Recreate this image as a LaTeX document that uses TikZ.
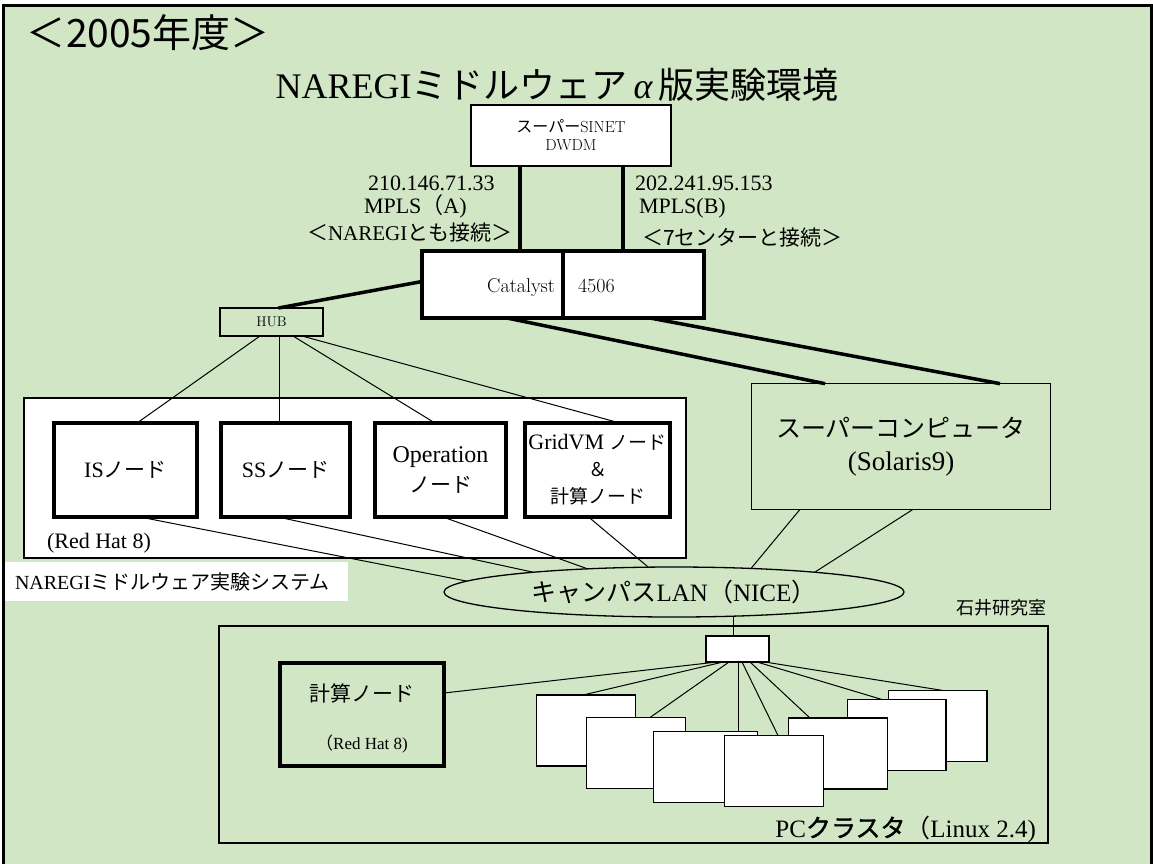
\documentclass[tikz,border=0pt]{standalone}
\usepackage{fontspec}
\setmainfont{Liberation Serif}
\newfontfamily\jp{Noto Sans CJK JP}
\newfontfamily\jpheavy[FakeBold=1.5]{Noto Sans CJK JP}
\usepackage{tikz}
\usetikzlibrary{positioning,shapes.geometric}
\newcommand\lmtext{\fontfamily{lmr}\selectfont}
\newcommand\fsz[2]{\fontsize{#1}{#2}\selectfont}

\begin{document}
\begin{tikzpicture}[x=1pt, y=-1pt,
  every node/.style={inner sep=0pt, outer sep=0pt},
  frame/.style={draw, line width=1.3pt},
  thinbox/.style={frame, fill=white},
  heavybox/.style={draw, line width=4pt, fill=white},
  pcbox/.style={thinbox, minimum width=98.7pt, minimum height=71pt},
  trunk/.style={line width=3.5pt},
  link/.style={line width=1pt},
  txt/.style={anchor=base west}]
  \definecolor{bggreen}{HTML}{D0E6C5}
  \useasboundingbox (0,0) rectangle (1153,863);
  \draw[line width=3pt, fill=bggreen] (3.5,5) rectangle (1151.5,870);

  % titles
  \node[txt, font=\fsz{39}{42}] (year) at (27,47) {\jp ＜2005年度＞};
  \node[anchor=base, font=\fsz{36}{40}] (title) at (557,98)
    {NAREGI{\jp ミドルウェア}\,{\itshape α}\,{\jp 版実験環境}};

  % SINET and Catalyst
  \node[thinbox, minimum width=200pt, minimum height=61pt, align=center,
    font=\fsz{16}{18}\lmtext] (sinet) at (571,135.5) {{\jp スーパー}SINET\\DWDM};
  \node[heavybox, minimum width=282pt, minimum height=67pt] (cat) at (563,284.5) {};
  \draw[trunk] (cat.north) -- (cat.south);
  \node[anchor=base east, font=\fsz{20}{24}\lmtext] (catname) at (555,292) {Catalyst};
  \node[txt, font=\fsz{20}{24}\lmtext] (catnum) at (578,292) {4506};
  \draw[trunk] ([xshift=-51pt]sinet.south) -- ([xshift=-51pt]sinet.south |- cat.north);
  \draw[trunk] ([xshift=52pt]sinet.south) -- ([xshift=52pt]sinet.south |- cat.north);

  \node[txt, font=\fsz{22}{26}] (ipa) at (368,190) {210.146.71.33};
  \node[txt, font=\fsz{22}{26}] (mplsa) at (364,213) {MPLS{\jp （}A)};
  \node[txt, font=\fsz{21}{26}] (conna) at (307,240) {{\jp ＜}NAREGI{\jp とも接続＞}};
  \node[txt, font=\fsz{22}{26}] (ipb) at (635,190) {202.241.95.153};
  \node[txt, font=\fsz{22}{26}] (mplsb) at (639,213) {MPLS(B)};
  \node[txt, font=\fsz{21}{26}] (connb) at (642,245) {\jp ＜7センターと接続＞};

  % experiment system
  \node[frame, minimum width=103pt, minimum height=28pt, font=\fsz{14}{16}\lmtext]
    (hub) at (271.5,322) {HUB};
  \draw[trunk] ([xshift=7pt]hub.north) -- ([yshift=3pt]cat.west);
  \node[thinbox, minimum width=662pt, minimum height=160pt] (sysbox) at (355,478) {};
  \node[heavybox, minimum width=143pt, minimum height=94pt, font=\fsz{22}{26}]
    (isnode) at (125.5,470) {IS{\jp\fsz{21}{26}ノード}};
  \node[heavybox, minimum width=129pt, minimum height=94pt, font=\fsz{22}{26}]
    (ssnode) at (285.5,470) {SS{\jp\fsz{21}{26}ノード}};
  \node[heavybox, minimum width=131pt, minimum height=94pt, align=center, font=\fsz{24}{30}]
    (opnode) at (440.5,470) {Operation\\{\jp\fsz{21}{30}ノード}};
  \node[heavybox, minimum width=145pt, minimum height=94pt, align=center, font=\fsz{22}{27}]
    (gridnode) at (597.5,469.5)
    {GridVM {\jp\fsz{19}{27}ノード}\\{\jp\fsz{19}{27}＆}\\{\jp\fsz{19}{27}計算ノード}};
  \draw[link] ([xshift=-11.5pt]hub.south) -- ([xshift=11.5pt]isnode.north);
  \draw[link] ([xshift=7.5pt]hub.south) -- ([xshift=-6.5pt]ssnode.north);
  \draw[link] ([xshift=21.5pt]hub.south) -- ([xshift=-5.5pt]opnode.north);
  \draw[link] ([xshift=30.5pt]hub.south) -- ([xshift=20.5pt]gridnode.north);
  \node[txt, font=\fsz{22}{26}] (redhat) at (47,548) {(Red Hat 8)};
  \node[fill=white, minimum height=39pt, text width=323pt, inner xsep=10pt, align=left,
    font=\fsz{20}{24}] (syslabel) at (176.5,581.5) {NAREGI{\jp ミドルウェア実験システム}};

  % campus LAN
  \node[ellipse, frame, minimum width=460pt, minimum height=50pt, font=\fsz{25}{30}]
    (lan) at (674,592) {{\jp キャンパス}LAN{\jp （}NICE{\jp ）}};
  \draw[link] ([xshift=14.5pt]isnode.south) -- (lan.177);
  \draw[link] ([xshift=-7.5pt]ssnode.south) -- (lan.172);
  \draw[link] ([xshift=2.5pt]opnode.south) -- (lan.165);
  \draw[link] ([xshift=-9.5pt]gridnode.south) -- (lan.136);

  % super computer
  \node[frame, minimum width=298.7pt, minimum height=125.7pt, align=center, font=\fsz{25}{33}]
    (super) at (901,446.5) {{\jp スーパーコンピュータ}\\{\fsz{27}{33}(Solaris9)}};
  \draw[trunk] ([xshift=-56pt]cat.south) -- ([xshift=-76pt]super.north);
  \draw[trunk] ([xshift=87pt]cat.south) -- ([xshift=99pt]super.north);
  \draw[link] ([xshift=-101pt]super.south) -- (lan.17);
  \draw[link] ([xshift=12pt]super.south) -- (lan.8);

  % PC cluster
  \node[font=\jp\fsz{18}{20}] (lab) at (1001,608) {石井研究室};
  \node[frame, minimum width=829pt, minimum height=217pt] (cluster) at (633.5,734.5) {};
  \node[thinbox, minimum width=63pt, minimum height=26pt] (sw) at (737.5,649) {};
  \draw[link] (lan.-22) -- (lan.-22 |- sw.north);
  \node[heavybox, fill=none, minimum width=164pt, minimum height=103pt] (calcnode) at (362,714.5) {};
  \node[font=\jp\fsz{21}{24}] (calcname) at ([yshift=21.5pt]calcnode.center) {計算ノード};
  \node[font=\fsz{17}{20}] (calcos) at ([yshift=-29.5pt]calcnode.center) {{\jp （}Red Hat 8)};
  \draw[link] ([yshift=21.5pt]calcnode.east) -- ([xshift=-20.5pt]sw.south);
  \foreach \pc/\cx/\cy/\w in {pc7/937.5/726/98.7, pc6/896.5/735/98.7, pc5/838/753.5/98.7,
      pc1/586/730.5/98.7, pc2/636/753/98.7, pc3/705.5/767/103.7, pc4/774/771/98.7}
    \node[pcbox, minimum width=\w pt] (\pc) at (\cx,\cy) {};
  \foreach \pc/\sx/\px in {pc1/-14.5/-3, pc2/-8.5/14, pc3/0.5/32.5, pc4/4.5/4,
      pc5/12.5/-28, pc6/19.5/-14.5, pc7/27.5/5.5}
    \draw[link] ([xshift=\sx pt]sw.south) -- ([xshift=\px pt]\pc.north);
  \node[anchor=base east, font=\fsz{25}{30}] (clusterlabel) at (1036,837)
    {PC{\jpheavy クラスタ}{\jp （}Linux 2.4)};
\end{tikzpicture}
\end{document}
